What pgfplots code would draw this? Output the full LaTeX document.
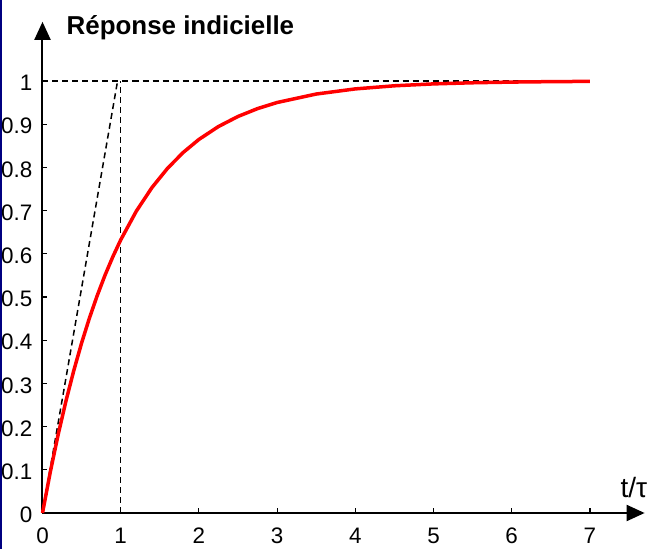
\documentclass[border=0pt]{standalone}
\usepackage{pgfplots}
\pgfplotsset{compat=1.18}
\usepackage{fontspec}
\setmainfont{Liberation Sans}
\usetikzlibrary{arrows.meta}
\begin{document}
\begin{tikzpicture}
\path[use as bounding box] (-42.5bp,-36bp) rectangle (611.5bp,513bp);
\draw[color={rgb,255:red,0;green,0;blue,128}, line width=2.5bp] (-41.25bp,-36bp)--(-41.25bp,513bp);
\begin{axis}[
  at={(0,0)}, anchor=origin,
  x=78.2bp, y=432bp,
  xmin=0, xmax=7.7, ymin=0, ymax=1.137,
  clip=false,
  axis lines=left,
  axis line style={line width=2bp},
  x axis line style={-{Triangle[length=18bp,width=16bp]}},
  y axis line style={-{Triangle[length=18bp,width=16bp]}},
  xtick={0,1,2,3,4,5,6,7},
  ytick={0,0.1,0.2,0.3,0.4,0.5,0.6,0.7,0.8,0.9,1},
  yticklabels={0,0.1,0.2,0.3,0.4,0.5,0.6,0.7,0.8,0.9,1},
  xticklabels={0,1,2,3,4,5,6,7},
  tick align=inside,
  major tick length=5bp,
  tick style={black, line width=1.2bp},
  /pgf/number format/assume math mode=true,
  tick label style={font=\fontsize{22.5}{26}\selectfont, inner sep=0pt},
  yticklabel style={xshift=-10bp, yshift=-2bp},
  xticklabel style={yshift=-15bp},
]
\addplot[black, line width=1.5bp, dash pattern=on 6bp off 4bp] coordinates {(0,1) (7,1)};
\addplot[black, line width=1.5bp, dash pattern=on 6bp off 4bp] coordinates {(1,0) (1,1)};
\addplot[black, line width=1.5bp, dash pattern=on 6bp off 4bp] coordinates {(0,0) (0.96,1)};
\addplot[red, line width=3.5bp, line join=round] coordinates {
(0,0) (0.1,0.0952) (0.2,0.1813) (0.3,0.2592) (0.4,0.3297) (0.5,0.3935)
(0.6,0.4512) (0.7,0.5034) (0.8,0.5507) (0.9,0.5934) (1.0,0.6321)
(1.2,0.6988) (1.4,0.7534) (1.6,0.7981) (1.8,0.8347) (2.0,0.8647)
(2.25,0.8946) (2.5,0.9179) (2.75,0.9361) (3.0,0.9502) (3.5,0.9698)
(4.0,0.9817) (4.5,0.9889) (5.0,0.9933) (5.5,0.9959) (6.0,0.9975)
(6.5,0.9985) (7.0,0.9991)};
\end{axis}
\node[anchor=base west, font=\bfseries\fontsize{26}{30}\selectfont, inner sep=0pt] at (24bp,478bp) {Réponse indicielle};
\node[anchor=base west, font=\fontsize{28}{32}\selectfont, inner sep=0pt] at (578bp,16bp) {t/τ};
\end{tikzpicture}
\end{document}
